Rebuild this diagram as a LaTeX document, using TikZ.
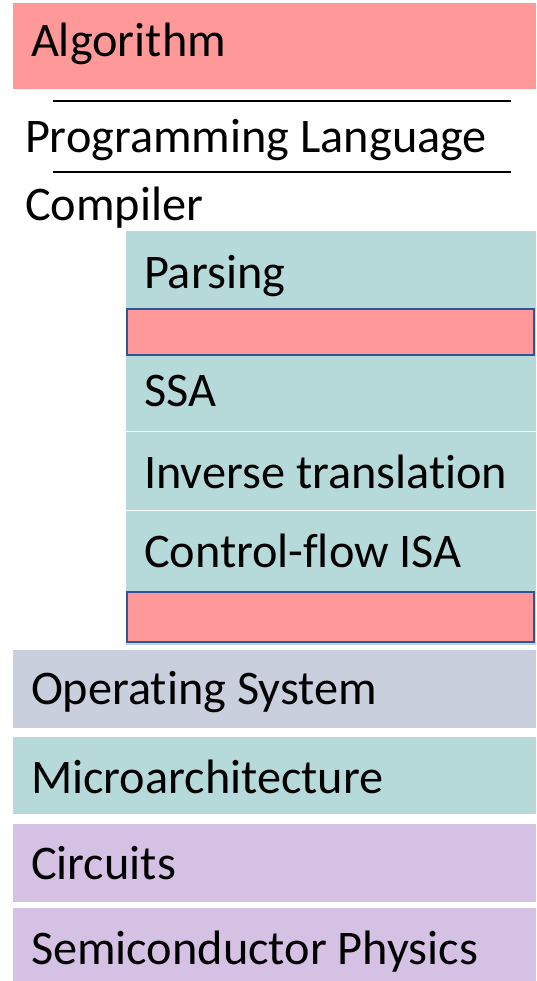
\documentclass[tikz,border=0pt]{standalone}
\usepackage{fontspec}
\setmainfont[RawFeature={-liga;-clig;-calt;-dlig}]{Carlito}
\definecolor{pinkred}{HTML}{FF9999}
\definecolor{tealbg}{HTML}{B6DADA}
\definecolor{osbg}{HTML}{CACFDE}
\definecolor{purplebg}{HTML}{D5C1E3}
\definecolor{edgeblue}{HTML}{2F5597}
\begin{document}
\begin{tikzpicture}[x=1pt,y=-1pt,
  band/.style={inner sep=0pt, outer sep=0pt, anchor=north west},
  lbl/.style={inner sep=0pt, outer sep=0pt, anchor=base west, font=\fontsize{48.3}{58}\selectfont},
  rule/.style={line width=1.5pt, black}]
\useasboundingbox[fill=white] (0,0) rectangle (536,981);
% bands
\node[band, fill=pinkred, minimum width=523pt, minimum height=86pt] (algbox) at (13,3) {};
\node[band, fill=tealbg, minimum width=410pt, minimum height=414pt] (compbox) at (126,231) {};
\node[band, fill=osbg, minimum width=523pt, minimum height=78pt] (osbox) at (13,650) {};
\node[band, fill=tealbg, minimum width=523pt, minimum height=77pt] (uabox) at (13,737) {};
\node[band, fill=purplebg, minimum width=523pt, minimum height=78pt] (cirbox) at (13,824) {};
\node[band, fill=purplebg, minimum width=523pt, minimum height=73pt] (semibox) at (13,908) {};
% white separators in compiler block
\coordinate (s1a) at (126,431); \coordinate (s1b) at (536,431);
\coordinate (s2a) at (126,510); \coordinate (s2b) at (536,510);
\draw[white, line width=1pt] (s1a) -- (s1b);
\draw[white, line width=1pt] (s2a) -- (s2b);
% red empty boxes
\node[band, fill=pinkred, draw=edgeblue, line width=2.5pt, minimum width=407pt, minimum height=46pt] (redA) at (127,309) {};
\node[band, fill=pinkred, draw=edgeblue, line width=2.5pt, minimum width=407pt, minimum height=50pt] (redB) at (127,592) {};
% rules around Programming Language
\coordinate (r1a) at (53,101); \coordinate (r1b) at (511,101);
\coordinate (r2a) at (53,172); \coordinate (r2b) at (511,172);
\draw[rule] (r1a) -- (r1b);
\draw[rule] (r2a) -- (r2b);
% labels
\node[lbl] (alg) at (31,57) {Algorithm};
\node[lbl] (pl) at (25,153) {Programming Language};
\node[lbl] (comp) at (25,221) {Compiler};
\node[lbl] (pars) at (144,288) {Parsing};
\node[lbl] (ssa) at (144,406) {SSA};
\node[lbl] (inv) at (144,488) {Inverse translation};
\node[lbl] (cf) at (144,567) {Control-flow ISA};
\node[lbl] (os) at (31,704) {Operating System};
\node[lbl] (ua) at (31,793) {Microarchitecture};
\node[lbl] (cir) at (31,879) {Circuits};
\node[lbl] (semi) at (31,964) {Semiconductor Physics};
\end{tikzpicture}
\end{document}
